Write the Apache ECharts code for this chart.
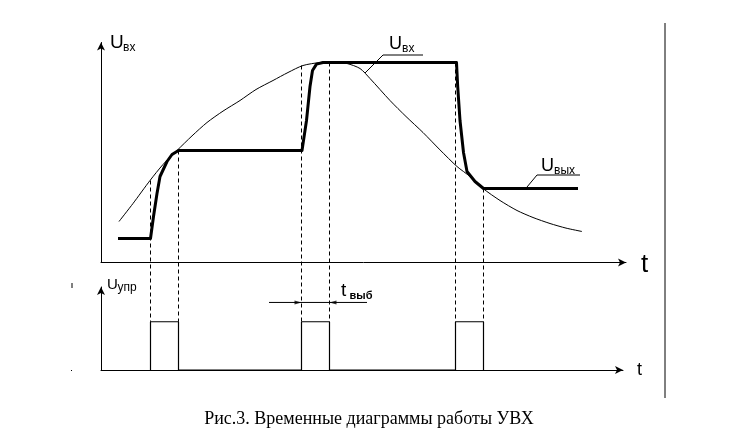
<!DOCTYPE html>
<html><head><meta charset="utf-8">
<script src="https://cdn.jsdelivr.net/npm/echarts@6/dist/echarts.min.js"></script>
<style>html,body{margin:0;padding:0;background:#fff}#c{width:745px;height:436px}</style>
</head><body><div id="c"></div>
<script>
// Input voltage U_вх (thin curve): time, value
const tIn = [1.8, 3.2, 4.9, 6.2, 7.6, 9.1, 10.6, 12.2, 13.9, 15.5, 17.2, 18.7, 20.2, 21.9, 23.3, 24.6, 25.9, 26.9, 28.9, 30.5, 32.2, 33.9, 35.6, 36.9, 38.2, 39.9, 41.6, 43.2, 44.9, 46.5, 48.1];
const uIn = [2.05, 2.95, 4.1, 4.9, 5.6, 6.33, 7.0, 7.57, 8.1, 8.65, 9.1, 9.5, 9.85, 10.0, 10.02, 9.95, 9.7, 9.2, 8.1, 7.3, 6.5, 5.63, 4.8, 4.3, 3.7, 3.1, 2.6, 2.25, 1.95, 1.72, 1.55];
// Output voltage U_вых (thick line)
const tOut = [1.7, 4.95, 5.25, 5.6, 5.9, 6.6, 7.1, 7.75, 20.1, 20.55, 20.9, 21.15, 21.55, 22.2, 35.55, 35.67, 35.9, 36.25, 36.6, 37.4, 38.25, 47.7];
const uOut = [1.2, 1.2, 2.3, 3.45, 4.3, 5.05, 5.4, 5.6, 5.6, 7.1, 8.8, 9.6, 9.92, 10.0, 10.0, 8.8, 7.1, 5.5, 4.55, 4.05, 3.7, 3.7];
// Control pulses U_упр
const pulseStart = [4.95, 20.05, 35.45];
const pulseEnd = [7.75, 22.85, 38.25];
const pulseLevel = 1;
// top of dashed guide lines at pulse edges (start, end per pulse)
const guideTop = [4.1, 5.6, 9.85, 10.0, 10.0, 3.7];
// sampling-time annotation
const tSampleLine = [16.8, 26.6];
const tSampleLevel = 1.4;

const zip = (a, b) => a.map((v, i) => [v, b[i]]);
const pulseData = [];
pulseStart.forEach((s, i) => {
  pulseData.push([s, 0], [s, pulseLevel], [pulseEnd[i], pulseLevel], [pulseEnd[i], 0]);
});

const axisStyle = {show: true, symbol: ['none', 'arrow'], symbolSize: [6, 8], lineStyle: {color: '#000', width: 1}};
const hid = {axisTick: {show: false}, axisLabel: {show: false}, splitLine: {show: false}};

const chart = echarts.init(document.getElementById('c'), null, {renderer: 'canvas'});
chart.setOption({
  backgroundColor: '#fff',
  animation: false,
  grid: [
    {left: 101, top: 42.5, width: 525, height: 220},
    {left: 101, top: 287, width: 522, height: 83}
  ],
  xAxis: [
    Object.assign({type: 'value', gridIndex: 0, min: 0, max: 52.5, axisLine: axisStyle}, hid),
    Object.assign({type: 'value', gridIndex: 1, min: 0, max: 52.2, axisLine: axisStyle}, hid)
  ],
  yAxis: [
    Object.assign({type: 'value', gridIndex: 0, min: 0, max: 11, axisLine: axisStyle}, hid),
    Object.assign({type: 'value', gridIndex: 1, min: 0, max: 1.72, axisLine: axisStyle}, hid)
  ],
  series: [
    {type: 'line', xAxisIndex: 0, yAxisIndex: 0, data: zip(tIn, uIn), symbol: 'none', smooth: 0.25,
     lineStyle: {color: '#000', width: 1}},
    {type: 'line', xAxisIndex: 0, yAxisIndex: 0, data: zip(tOut, uOut), symbol: 'none',
     lineStyle: {color: '#000', width: 3, join: 'round'}},
    {type: 'line', xAxisIndex: 1, yAxisIndex: 1, data: pulseData, symbol: 'none',
     lineStyle: {color: '#000', width: 1.2}},
    {type: 'line', xAxisIndex: 1, yAxisIndex: 1, data: tSampleLine.map(t => [t, tSampleLevel]), symbol: 'none',
     lineStyle: {color: '#000', width: 1}},
    {type: 'scatter', xAxisIndex: 1, yAxisIndex: 1, symbol: 'triangle', symbolSize: [4, 7],
     data: [{value: [pulseStart[1] - 0.35, tSampleLevel], symbolRotate: -90},
            {value: [pulseEnd[1] + 0.35, tSampleLevel], symbolRotate: 90}],
     itemStyle: {color: '#000'}}
  ]
});

const edgesT = [];
pulseStart.forEach((s, i) => edgesT.push(s, pulseEnd[i]));
const g = [];
edgesT.forEach((t, i) => {
  const p1 = chart.convertToPixel({gridIndex: 0}, [t, guideTop[i]]);
  const p2 = chart.convertToPixel({gridIndex: 1}, [t, pulseLevel]);
  g.push({type: 'line', shape: {x1: p1[0], y1: p1[1], x2: p2[0], y2: p2[1]},
          style: {stroke: '#000', lineWidth: 1, lineDash: [4, 3]}, z: 1});
});
const txt = (x, y, text, size, extra) => ({type: 'text', x: x, y: y,
  style: Object.assign({text: text, fill: '#000', font: size + 'px "Liberation Sans", Arial, sans-serif',
  textAlign: 'left', textVerticalAlign: 'middle'}, extra || {})});
g.push(
  // right border line
  {type: 'line', shape: {x1: 665, y1: 23, x2: 665, y2: 398}, style: {stroke: '#000', lineWidth: 1}},
  // small stray marks
  {type: 'line', shape: {x1: 72, y1: 283, x2: 72, y2: 288}, style: {stroke: '#000', lineWidth: 1}},
  {type: 'rect', shape: {x: 71, y: 370, width: 1, height: 1}, style: {fill: '#000'}},
  // labels
  txt(110, 43, 'U', 19),
  txt(123, 47.5, 'вх', 12),
  txt(389, 44, 'U', 18),
  txt(402, 48.5, 'вх', 12),
  {type: 'polyline', shape: {points: [[365, 73], [383, 55], [423, 55]]}, style: {stroke: '#000', lineWidth: 1, fill: null}},
  txt(541, 166.5, 'U', 18),
  txt(554, 170.5, 'вых', 12),
  {type: 'polyline', shape: {points: [[527, 187], [537, 175], [580, 175]]}, style: {stroke: '#000', lineWidth: 1, fill: null}},
  txt(107, 284.5, 'U', 15),
  txt(117.5, 287.5, 'упр', 12),
  txt(341, 290.5, 't', 19),
  txt(349.5, 296, 'выб', 11, {font: 'bold 11px "Liberation Sans", Arial, sans-serif'}),
  txt(641, 265, 't', 26),
  txt(637, 370, 't', 18),
  {type: 'text', x: 369, y: 419, style: {text: 'Рис.3. Временные диаграммы работы УВХ', fill: '#000',
    font: '18px "Liberation Serif", "Times New Roman", serif', textAlign: 'center', textVerticalAlign: 'middle'}}
);
chart.setOption({graphic: g});
</script>
</body></html>
